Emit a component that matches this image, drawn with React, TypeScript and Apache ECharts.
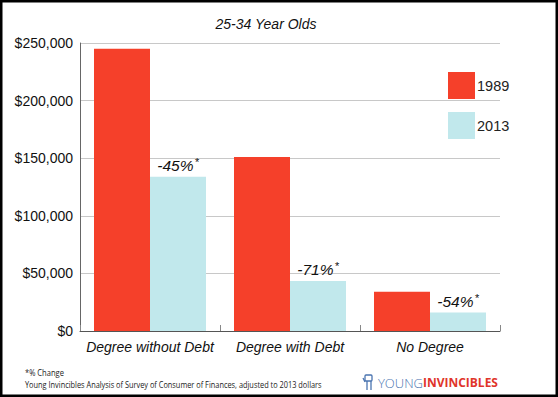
import React, { useEffect, useRef } from "react";
import * as echarts from "echarts";

const categories = ["Degree without Debt", "Degree with Debt", "No Degree"];
const values1989 = [245000, 151000, 34000];
const values2013 = [134000, 43500, 16000];
const changeLabels = ["-45%", "-71%", "-54%"];
const seriesNames = ["1989", "2013"];
const yMin = 0;
const yMax = 250000;
const yInterval = 50000;

const FONT = "'Liberation Sans', Arial, sans-serif";
const FOOT = "'Open Sans', sans-serif";
const RED = "#F5402A";
const BLUE = "#C1E8EC";

export default function App() {
  const ref = useRef<HTMLDivElement>(null);
  useEffect(() => {
    document.body.style.margin = "0";
    const chart = echarts.init(ref.current!, null, { renderer: "svg" });
    chart.setOption({
      animation: false,
      backgroundColor: "#fff",
      title: {
        text: "25-34 Year Olds",
        left: 261,
        textAlign: "center",
        top: 12,
        textStyle: { fontFamily: FONT, fontStyle: "italic", fontWeight: "normal", fontSize: 14, color: "#111" },
      },
      legend: {
        orient: "vertical",
        left: 443,
        top: 67,
        itemWidth: 27,
        itemHeight: 27,
        itemGap: 13,
        icon: "rect",
        textStyle: { fontFamily: FONT, fontSize: 14.5, color: "#222", padding: [0, 0, 0, -3] },
        data: seriesNames,
      },
      grid: { left: 80, right: 58, top: 43, bottom: 66 },
      xAxis: {
        type: "category",
        data: categories,
        axisLine: { lineStyle: { color: "#555", width: 1 } },
        axisTick: { show: true, inside: true, length: 6, lineStyle: { color: "#888" } },
        axisLabel: { interval: 0, fontFamily: FONT, fontStyle: "italic", fontSize: 14, color: "#111", margin: 9 },
      },
      yAxis: {
        type: "value",
        min: yMin,
        max: yMax,
        interval: yInterval,
        axisLine: { show: true, lineStyle: { color: "#666" } },
        axisTick: { show: false },
        splitLine: { lineStyle: { color: "#c8c8c8" } },
        axisLabel: {
          fontFamily: FONT,
          fontSize: 14,
          color: "#111",
          margin: 7,
          formatter: (v: number) => "$" + v.toLocaleString("en-US"),
        },
      },
      series: [
        {
          name: seriesNames[0],
          type: "bar",
          data: values1989,
          itemStyle: { color: RED },
          barGap: "0%",
          barCategoryGap: "20%",
        },
        {
          name: seriesNames[1],
          type: "bar",
          data: values2013,
          itemStyle: { color: BLUE },
          barGap: "0%",
          barCategoryGap: "20%",
          label: {
            show: true,
            position: "top",
            distance: 3,
            formatter: (p: any) => "{a|" + changeLabels[p.dataIndex] + "}{b|*}",
            rich: {
              a: { fontFamily: FONT, fontStyle: "italic", fontSize: 15.5, color: "#111" },
              b: { fontFamily: FONT, fontStyle: "italic", fontSize: 11, color: "#111", verticalAlign: "top", padding: [0, 0, 6, 1] },
            },
          },
        },
      ],
      graphic: [
        {
          type: "rect",
          shape: { x: 1, y: 1, width: 556, height: 395 },
          style: { fill: "none", stroke: "#000", lineWidth: 3 },
          silent: true,
        },
        {
          type: "text",
          x: 25,
          y: 368,
          scaleX: 0.84,
          style: { text: "*% Change", fontFamily: FOOT, fontSize: 9, fill: "#222" },
        },
        {
          type: "text",
          x: 25,
          y: 380,
          scaleX: 0.82,
          style: {
            text: "Young Invincibles Analysis of Survey of Consumer of Finances, adjusted to 2013 dollars",
            fontFamily: FOOT,
            fontSize: 9,
            fill: "#222",
          },
        },
        {
          type: "group",
          x: 363,
          y: 375,
          children: [
            { type: "rect", shape: { x: 2, y: 0, width: 7, height: 6, r: 1 }, style: { fill: "none", stroke: "#4A74B0", lineWidth: 1.3 } },
            { type: "line", shape: { x1: 4, y1: 6, x2: 4, y2: 15 }, style: { stroke: "#4A74B0", lineWidth: 1.3 } },
            { type: "line", shape: { x1: 8, y1: 6, x2: 8, y2: 15 }, style: { stroke: "#4A74B0", lineWidth: 1.3 } },
            { type: "line", shape: { x1: 0, y1: 3, x2: 2, y2: 7 }, style: { stroke: "#4A74B0", lineWidth: 1.3 } },
          ],
        },
        {
          type: "text",
          x: 378,
          y: 376,
          style: {
            text: "{a|YOUNG}{b|INVINCIBLES}",
            rich: {
              a: { fontFamily: FOOT, fontWeight: 300, fontSize: 13, fill: "#4A74B0" },
              b: { fontFamily: FOOT, fontWeight: "bold", fontSize: 12, fill: "#E0352B" },
            },
          },
        },
      ],
    });
    return () => chart.dispose();
  }, []);
  return <div ref={ref} style={{ width: 558, height: 397 }} />;
}
